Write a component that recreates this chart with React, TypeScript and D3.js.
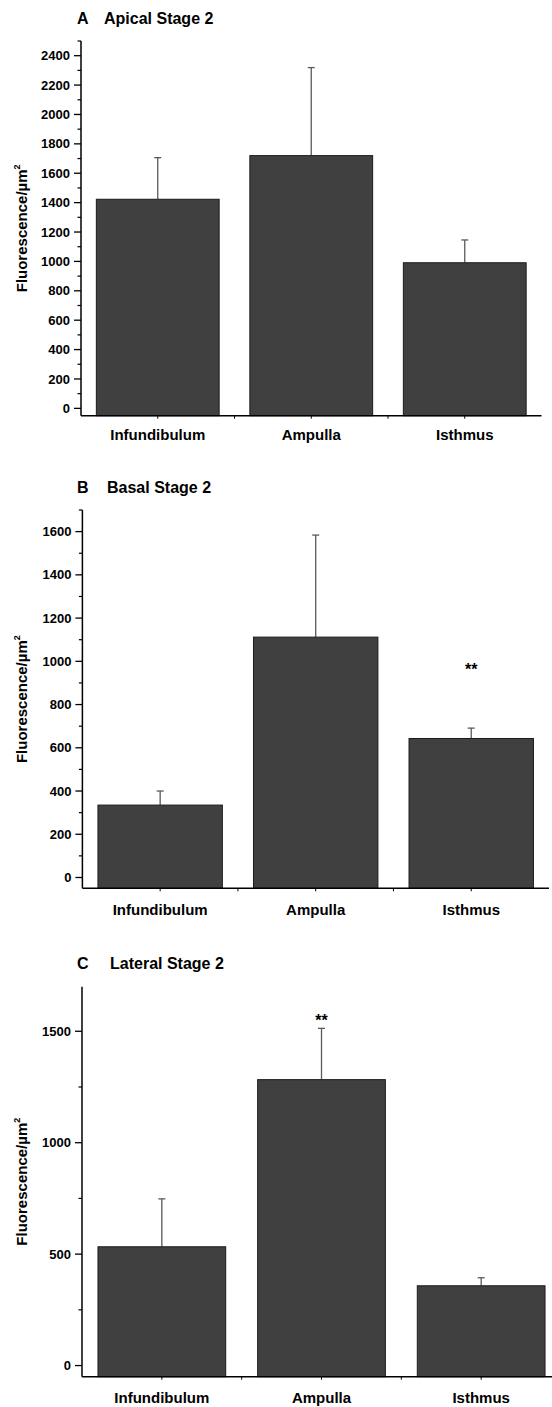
import React from "react";
import * as d3 from "d3";

// Tube regions shared by all three panels
const categories = ["Infundibulum", "Ampulla", "Isthmus"];

// Mean fluorescence per µm² and the upper error (SEM) for each region
const apicalMeans = [1423, 1720, 991];
const apicalErrors = [283, 599, 155];

const basalMeans = [335, 1112, 643];
const basalErrors = [65, 472, 48];

const lateralMeans = [533, 1283, 358];
const lateralErrors = [215, 230, 36];

// Axis ticks
const apicalMajor = [0, 200, 400, 600, 800, 1000, 1200, 1400, 1600, 1800, 2000, 2200, 2400];
const apicalMinor = [100, 300, 500, 700, 900, 1100, 1300, 1500, 1700, 1900, 2100, 2300, 2500];
const basalMajor = [0, 200, 400, 600, 800, 1000, 1200, 1400, 1600];
const basalMinor = [100, 300, 500, 700, 900, 1100, 1300, 1500, 1700];
const lateralMajor = [0, 500, 1000, 1500];
const lateralMinor = [250, 750, 1250];

// Significance marks: [category, value position]
const basalStars: [string, number][] = [["Isthmus", 980]];
const lateralStars: [string, number][] = [["Ampulla", 1565]];

const FONT = "'Liberation Sans', Arial, Helvetica, sans-serif";
const BAR_FILL = "#404040";
const BAR_STROKE = "#1c1c1c";
const ERR_STROKE = "#5a5a5a";

type PanelProps = {
  letter: string;
  title: string;
  titleX: number;
  titleY: number;
  means: number[];
  errors: number[];
  major: number[];
  minor: number[];
  yMin: number;
  yMax: number;
  left: number;
  right: number;
  top: number;
  bottom: number;
  catLabelY: number;
  stars: [string, number][];
};

function Panel(p: PanelProps) {
  const x = d3.scaleBand<string>().domain(categories).range([p.left, p.right]).paddingInner(0.2).paddingOuter(0.1);
  const band = d3.scaleBand<string>().domain(categories).range([p.left, p.right]);
  const y = d3.scaleLinear().domain([p.yMin, p.yMax]).range([p.bottom, p.top]);
  const bw = x.bandwidth();
  const capHalf = 3.5;
  const labelCenter = (p.top + p.bottom) / 2;
  const boundaries = categories.slice(1).map((c) => band(c) as number);

  return (
    <g>
      {/* title */}
      <text x={77} y={p.titleY} fontFamily={FONT} fontWeight="bold" fontSize={16} fill="#000">
        {p.letter}
      </text>
      <text x={p.titleX} y={p.titleY} fontFamily={FONT} fontWeight="bold" fontSize={16} fill="#000">
        {p.title}
      </text>

      {/* error bars (drawn behind the bars) */}
      {categories.map((c, i) => {
        const cx = (x(c) as number) + bw / 2;
        const yt = y(p.means[i] + p.errors[i]);
        return (
          <g key={"e" + c}>
            <line x1={cx} x2={cx} y1={y(p.means[i])} y2={yt} stroke={ERR_STROKE} strokeWidth={1.3} />
            <line x1={cx - capHalf} x2={cx + capHalf} y1={yt} y2={yt} stroke={ERR_STROKE} strokeWidth={1.3} />
          </g>
        );
      })}

      {/* bars */}
      {categories.map((c, i) => (
        <rect
          key={"b" + c}
          x={x(c) as number}
          y={y(p.means[i])}
          width={bw}
          height={y(p.yMin) - y(p.means[i])}
          fill={BAR_FILL}
          stroke={BAR_STROKE}
          strokeWidth={1}
        />
      ))}

      {/* y axis */}
      <line x1={p.left} x2={p.left} y1={p.top} y2={p.bottom} stroke="#000" strokeWidth={1.5} />
      {p.major.map((v) => (
        <g key={"M" + v}>
          <line x1={p.left - 7} x2={p.left} y1={y(v)} y2={y(v)} stroke="#000" strokeWidth={1.3} />
          <text x={p.left - 11} y={y(v)} dy="0.35em" textAnchor="end" fontFamily={FONT} fontWeight="bold" fontSize={13} fill="#000">
            {v}
          </text>
        </g>
      ))}
      {p.minor.map((v) => (
        <line key={"m" + v} x1={p.left - 3.5} x2={p.left} y1={y(v)} y2={y(v)} stroke="#000" strokeWidth={1.2} />
      ))}

      {/* y axis title */}
      <text
        transform={`translate(27,${labelCenter}) rotate(-90)`}
        textAnchor="middle"
        fontFamily={FONT}
        fontWeight="bold"
        fontSize={15}
        fill="#000"
      >
        Fluorescence/µm
        <tspan fontSize={9} dy="-7">2</tspan>
      </text>

      {/* x axis */}
      <line x1={p.left} x2={p.right} y1={p.bottom} y2={p.bottom} stroke="#000" strokeWidth={1.5} />
      {categories.map((c) => {
        const cx = (x(c) as number) + bw / 2;
        return <line key={"xt" + c} x1={cx} x2={cx} y1={p.bottom} y2={p.bottom + 3} stroke="#000" strokeWidth={1} />;
      })}
      {boundaries.map((bx) => (
        <line key={"xb" + bx} x1={bx} x2={bx} y1={p.bottom} y2={p.bottom + 3} stroke="#000" strokeWidth={1} />
      ))}
      {categories.map((c) => (
        <text
          key={"xl" + c}
          x={(x(c) as number) + bw / 2}
          y={p.catLabelY}
          textAnchor="middle"
          fontFamily={FONT}
          fontWeight="bold"
          fontSize={15}
          fill="#000"
        >
          {c}
        </text>
      ))}

      {/* significance marks */}
      {p.stars.map(([c, v]) => (
        <text
          key={"s" + c}
          x={(x(c) as number) + bw / 2}
          y={y(v)}
          dy="0.6em"
          textAnchor="middle"
          fontFamily={FONT}
          fontWeight="bold"
          fontSize={16}
          fill="#000"
        >
          **
        </text>
      ))}
    </g>
  );
}

export default function App() {
  return (
    <svg
      width={552}
      height={1407}
      viewBox="0 0 552 1407"
      style={{ position: "absolute", left: 0, top: 0, background: "#fff" }}
    >
      <rect x={0} y={0} width={552} height={1407} fill="#fff" />
      <Panel
        letter="A"
        title="Apical Stage 2"
        titleX={104}
        titleY={23.5}
        means={apicalMeans}
        errors={apicalErrors}
        major={apicalMajor}
        minor={apicalMinor}
        yMin={-50}
        yMax={2500}
        left={81}
        right={541.5}
        top={41}
        bottom={415.7}
        catLabelY={440}
        stars={[]}
      />
      <Panel
        letter="B"
        title="Basal Stage 2"
        titleX={107}
        titleY={493}
        means={basalMeans}
        errors={basalErrors}
        major={basalMajor}
        minor={basalMinor}
        yMin={-50}
        yMax={1700}
        left={82.4}
        right={549}
        top={510}
        bottom={888.3}
        catLabelY={915}
        stars={basalStars}
      />
      <Panel
        letter="C"
        title="Lateral Stage 2"
        titleX={110}
        titleY={969}
        means={lateralMeans}
        errors={lateralErrors}
        major={lateralMajor}
        minor={lateralMinor}
        yMin={-50}
        yMax={1700}
        left={82}
        right={561}
        top={986.7}
        bottom={1376.7}
        catLabelY={1403}
        stars={lateralStars}
      />
    </svg>
  );
}
